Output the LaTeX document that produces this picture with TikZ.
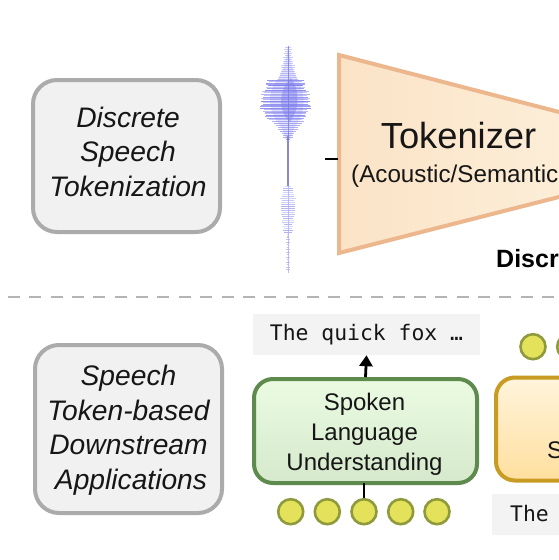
\documentclass[tikz,border=0pt]{standalone}
\usepackage{fontspec}
\setmainfont{Liberation Sans}
\setmonofont{DejaVu Sans Mono}
\usetikzlibrary{arrows.meta}
\definecolor{grayedge}{HTML}{ABABAB}
\definecolor{dashc}{HTML}{B4B4B4}
\definecolor{grayfill}{HTML}{F1F1F1}
\definecolor{greenedge}{HTML}{5F8A4D}
\definecolor{greentop}{HTML}{EAFBE1}
\definecolor{greenbot}{HTML}{D6E9CC}
\definecolor{goldedge}{HTML}{C89B22}
\definecolor{goldtop}{HTML}{FFF4DC}
\definecolor{goldbot}{HTML}{FFDF9E}
\definecolor{peach}{HTML}{EDB78E}
\definecolor{tokl}{HTML}{FBE3C6}
\definecolor{tokr}{HTML}{FDF0DC}
\definecolor{tokedge}{HTML}{8E9A3C}
\definecolor{tokfill}{HTML}{E4E25A}
\definecolor{codebg}{HTML}{F3F3F3}
\definecolor{wave}{HTML}{7C7CEE}
\definecolor{inkc}{HTML}{161616}
\tikzset{
  x=1pt,y=-1pt,
  catbox/.style={draw=grayedge,fill=grayfill,line width=4pt,rounded corners=24pt,minimum width=187pt,inner sep=0pt},
  cattext/.style={align=center,font=\fontsize{28.2}{34.5}\selectfont\itshape,text=inkc,inner sep=0pt},
  appbox/.style={line width=4pt,rounded corners=19pt,inner sep=0pt},
  apptext/.style={align=center,font=\fontsize{24}{30}\selectfont,text=inkc,inner sep=0pt},
  codebox/.style={fill=codebg,inner sep=0pt,font=\fontsize{21.4}{26}\ttfamily,text=inkc},
  tok/.style={circle,draw=tokedge,fill=tokfill,line width=2.6pt,minimum size=25pt,inner sep=0pt},
  wavel/.style={draw=wave,line width=0.5pt},
  link/.style={draw=black,line width=2.8pt}
}
\begin{document}
\begin{tikzpicture}
\useasboundingbox (0,0) rectangle (559,560);
\clip (0,0) rectangle (559,560);
\fill[white] (0,0) rectangle (559,560);

% category boxes
\node[catbox,minimum height=152pt] (cat1) at (126.5,156) {};
\node[cattext] (cat1t) at (128,151.5) {Discrete\\Speech\\Tokenization};
\node[catbox,minimum height=168pt] (cat2) at (128.5,429) {};
\node[cattext] (cat2t) at (128.5,430) {Speech\\Token-based\\Downstream\\\hspace*{5pt}Applications};

% waveform
\pgfmathsetseed{11}
\fill[wave!40,opacity=.55] (288,46) .. controls (286,60) and (284,70) .. (277,80)
   .. controls (266,95) and (268,112) .. (282,128) -- (286,140) -- (290,140) -- (294,128)
   .. controls (306,112) and (306,95) .. (298,80) .. controls (292,70) and (290,60) .. (288,46) -- cycle;
\fill[wave,opacity=.45] (291,78) .. controls (300,90) and (300,108) .. (290,122) .. controls (278,112) and (278,90) .. (291,78) -- cycle;
\foreach \y in {47,49,...,79}{
  \pgfmathsetmacro{\h}{1+(\y-47)*0.22+rnd*2.5}
  \draw[wavel,opacity=.4] (288-\h,\y) -- (288+\h,\y);
}
\foreach \y in {80,81.4,...,120}{
  \pgfmathsetmacro{\h}{10+12*sin((\y-76)*3.6)+rnd*6}
  \pgfmathsetmacro{\o}{.35+rnd*.6}
  \draw[wavel,opacity=\o] (285.5-\h,\y) -- (285.5+\h,\y);
}
\foreach \y in {121,123,...,139}{
  \pgfmathsetmacro{\h}{(140-\y)*0.7+1+rnd*2}
  \draw[wavel,opacity=.6] (288-\h,\y) -- (288+\h,\y);
}
\draw[wave!85!gray,line width=1pt,opacity=.8] (288,46) -- (288,140);
\draw[wave!70!gray,line width=1.3pt,opacity=.9] (288,136) -- (288,186);
\foreach \y in {186,188,...,236}{
  \pgfmathsetmacro{\h}{1.5+5.5*sin((\y-182)*3.5)*(1-(\y-186)/110)+rnd*2.5}
  \pgfmathsetmacro{\o}{.25+rnd*.35}
  \draw[wavel,opacity=\o] (288-\h,\y) -- (288+\h,\y);
}
\foreach \y in {237,239.5,...,271}{
  \pgfmathsetmacro{\h}{1+rnd*1.5}
  \draw[wavel,opacity=.45] (288-\h,\y) -- (288+\h,\y);
}
\draw[wave!60,line width=1pt,opacity=.8] (288,186) -- (288,273);

% tokenizer
\path[draw=peach,line width=4pt,miter limit=10,left color=tokl,right color=tokr]
  (339,55) -- (610,125.2) -- (610,184) -- (339,253) -- cycle;
\coordinate (tokleft) at (338,159);
\coordinate (tokfree) at (325,159);
\draw[link] (tokfree) -- (tokleft);
\node[anchor=base,font=\fontsize{36.3}{36}\selectfont,text=inkc,inner sep=0pt] (tk) at (458.5,148) {Tokenizer};
\node[anchor=base west,font=\fontsize{24.2}{26}\selectfont,text=inkc,inner sep=0pt] (tk2) at (351,182) {(Acoustic/Semantic};
\node[anchor=base west,font=\fontsize{25}{26}\selectfont\bfseries,text=black,inner sep=0pt] (disc) at (496,267) {Discr};

% divider
\coordinate (dl) at (0,297);
\coordinate (dr) at (559,297);
\draw[draw=dashc,line width=2.6pt,dash pattern=on 12pt off 9.37pt,dash phase=13.5pt] (dl) -- (dr);

% spoken language understanding
\node[codebox,minimum width=227pt,minimum height=41pt] (out1) at (366.5,334.5) {The quick fox …};
\node[appbox,draw=greenedge,top color=greentop,bottom color=greenbot,minimum width=223pt,minimum height=104pt] (slu) at (365.5,431) {};
\node[apptext] (slut) at (364.5,434.5) {Spoken\\Language\\Understanding};
\draw[link,-{Triangle[length=11pt,width=13pt]}] (slu.north) -- (out1.south);

\foreach \i/\xx in {1/290.7,2/327.3,3/364,4/400.7,5/437}{
  \coordinate (tc\i) at (\xx,511.7);
}
\draw[link] (tc3) -- (364,483);
\foreach \i in {1,...,5}{ \node[tok] (t\i) at (tc\i) {}; }

% right column, cut off by the edge
\node[appbox,draw=goldedge,top color=goldtop,bottom color=goldbot,minimum width=223pt,minimum height=103pt] (syn) at (607.5,429) {};
\node[anchor=base west,font=\fontsize{24}{30}\selectfont,text=inkc,inner sep=0pt] (syntxt) at (547,458) {S};
\node[tok] (u1) at (533,346.7) {};
\node[tok] (u2) at (569.7,346.7) {};
\node[codebox,minimum width=227pt,minimum height=41pt] (in2) at (605.5,514.5) {};
\node[anchor=base west,font=\fontsize{21.4}{26}\ttfamily,text=inkc,inner sep=0pt] (in2t) at (510,521) {The};
\end{tikzpicture}
\end{document}
